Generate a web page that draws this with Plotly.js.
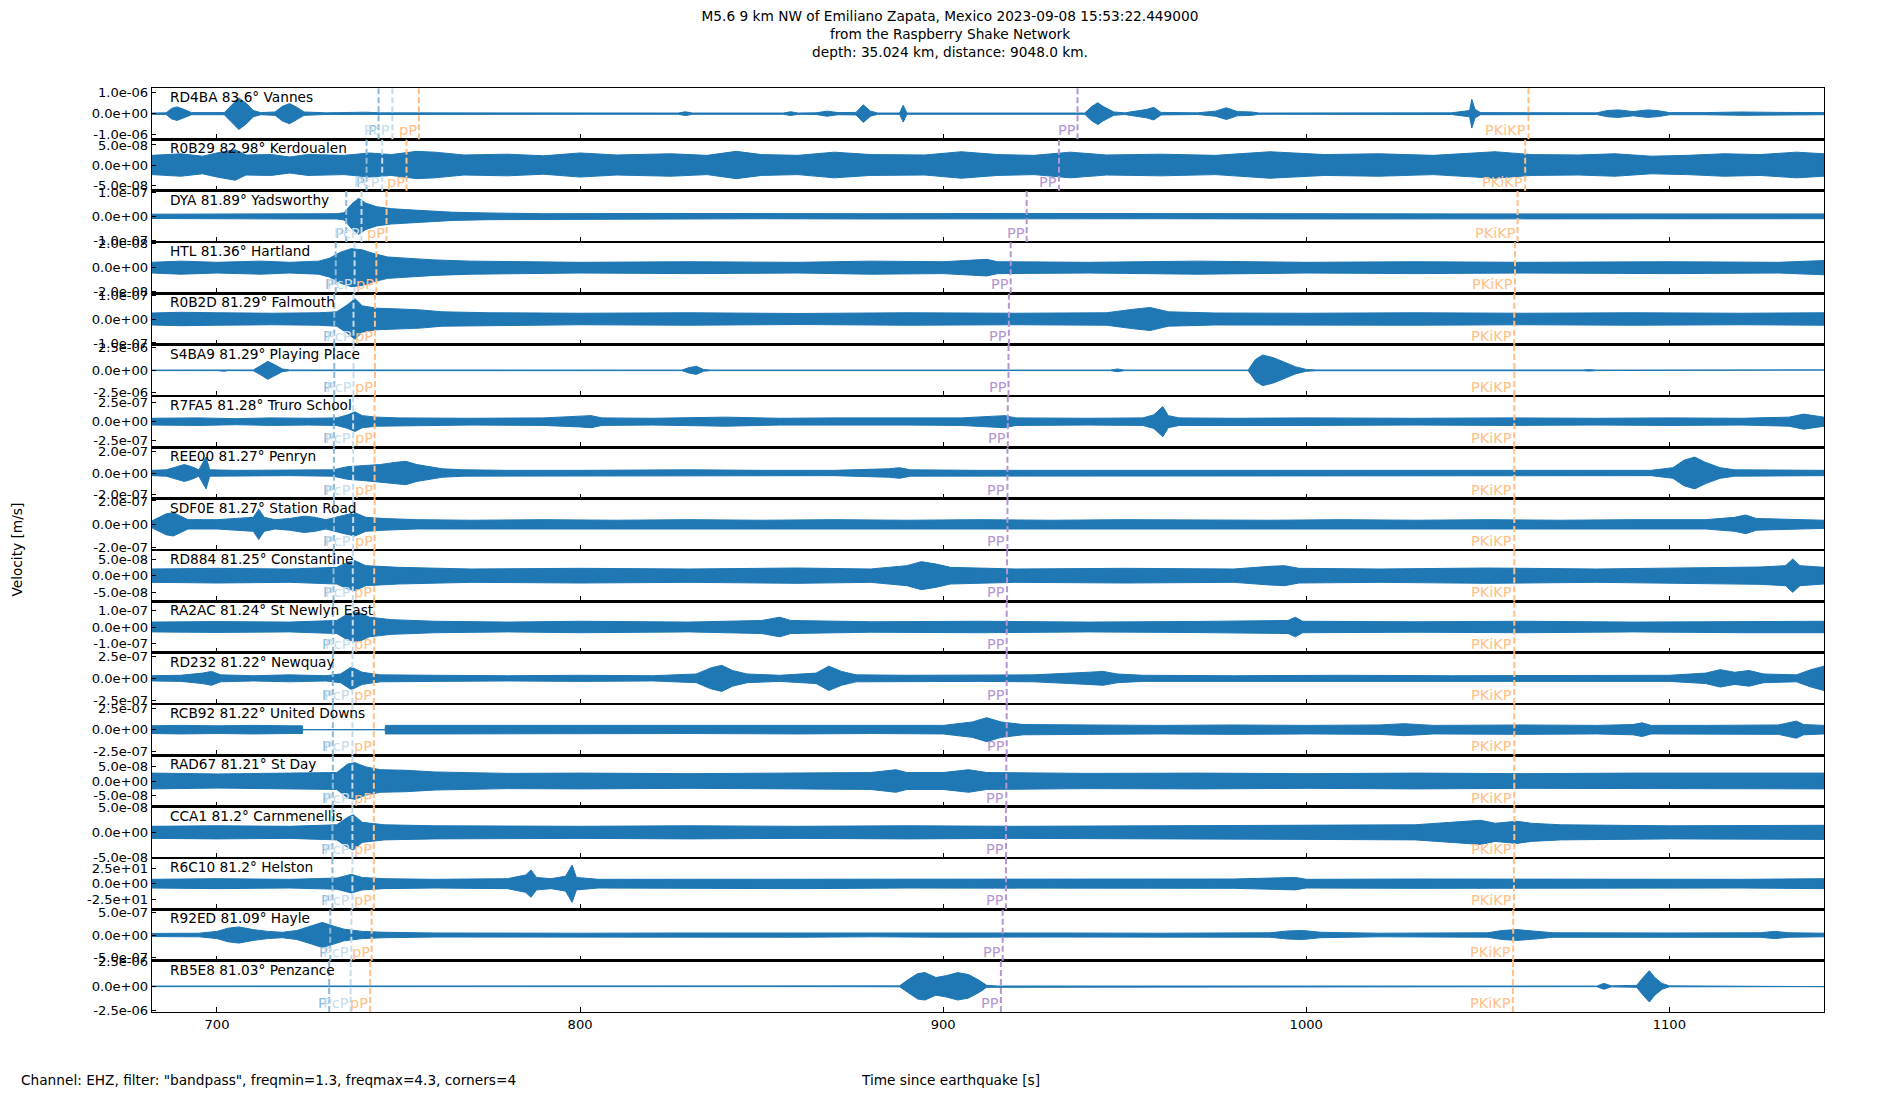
<!DOCTYPE html>
<html>
<head>
<meta charset="utf-8">
<script src="https://cdn.plot.ly/plotly-3.0.1.min.js"></script>
<style>html,body{margin:0;padding:0;background:#fff;}#chart{width:1900px;height:1100px;}</style>
</head>
<body>
<div id="chart"></div>
<script>
// ---------------- DATA ----------------
const stationLabels = [
  "RD4BA 83.6° Vannes", "R0B29 82.98° Kerdoualen", "DYA 81.89° Yadsworthy", "HTL 81.36° Hartland",
  "R0B2D 81.29° Falmouth", "S4BA9 81.29° Playing Place", "R7FA5 81.28° Truro School", "REE00 81.27° Penryn",
  "SDF0E 81.27° Station Road", "RD884 81.25° Constantine", "RA2AC 81.24° St Newlyn East", "RD232 81.22° Newquay",
  "RCB92 81.22° United Downs", "RAD67 81.21° St Day", "CCA1 81.2° Carnmenellis", "R6C10 81.2° Helston",
  "R92ED 81.09° Hayle", "RB5E8 81.03° Penzance"
];
// y tick value (+/-) shown on each panel
const tickAmp = [1e-6, 5e-8, 1e-7, 2e-8, 1e-7, 2.5e-6, 2.5e-7, 2e-7, 2e-7, 5e-8, 1e-7, 2.5e-7, 2.5e-7, 5e-8, 5e-8, 25, 5e-7, 2.5e-6];
// axis half-range of each panel
const yLimit = [1.22e-6, 6.4e-8, 1.07e-7, 2.16e-8, 1.07e-7, 2.85e-6, 3.4e-7, 2.42e-7, 2.2e-7, 7.7e-8, 1.57e-7, 2.95e-7, 3.0e-7, 9.1e-8, 5.1e-8, 41.3, 5.7e-7, 2.62e-6];

// phase arrival times [s] per panel
const tP     = [744.5, 741.2, 735.6, 732.7, 732.3, 732.3, 732.2, 732.2, 732.2, 732.1, 732.0, 731.9, 731.9, 731.9, 731.8, 731.8, 731.2, 730.9];
const tPcP   = [748.3, 745.5, 739.8, 737.9, 737.6, 737.6, 737.5, 737.5, 737.5, 737.4, 737.4, 737.3, 737.3, 737.3, 737.3, 737.3, 737.0, 736.8];
const tpP    = [755.6, 752.2, 746.7, 743.9, 743.5, 743.5, 743.4, 743.4, 743.4, 743.3, 743.3, 743.2, 743.2, 743.2, 743.2, 743.2, 742.6, 742.2];
const tPP    = [937.0, 931.9, 923.0, 918.6, 918.1, 918.0, 917.8, 917.7, 917.7, 917.6, 917.5, 917.5, 917.5, 917.4, 917.3, 917.3, 916.4, 915.9];
const tPKiKP = [1061.2, 1060.3, 1058.2, 1057.5, 1057.3, 1057.3, 1057.3, 1057.3, 1057.3, 1057.3, 1057.3, 1057.3, 1057.3, 1057.3, 1057.3, 1057.2, 1057.0, 1056.9];

// velocity envelopes [time s, amplitude]
const env_RD4BA = [[682.1,0.03e-6],[686,0.04e-6],[687.5,0.25e-6],[689,0.32e-6],[691,0.2e-6],[693,0.05e-6],[702,0.05e-6],[704,0.4e-6],[706,0.75e-6],[708,0.5e-6],[710,0.15e-6],[712,0.05e-6],[716,0.08e-6],[718,0.35e-6],[720,0.48e-6],[722,0.3e-6],[724,0.08e-6],[730,0.04e-6],[741,0.07e-6],[745,0.04e-6],[800,0.03e-6],[827,0.03e-6],[829,0.09e-6],[831,0.03e-6],[856,0.03e-6],[858,0.09e-6],[860,0.03e-6],[865,0.04e-6],[868,0.12e-6],[871,0.05e-6],[876,0.06e-6],[878,0.42e-6],[880,0.12e-6],[882,0.03e-6],[888,0.03e-6],[889,0.4e-6],[890,0.03e-6],[939,0.03e-6],[941,0.35e-6],[942.6,0.52e-6],[944,0.35e-6],[947,0.08e-6],[950,0.04e-6],[956,0.2e-6],[958,0.3e-6],[960,0.06e-6],[970,0.04e-6],[975,0.12e-6],[978,0.28e-6],[981,0.1e-6],[985,0.08e-6],[987,0.03e-6],[1040,0.04e-6],[1045,0.15e-6],[1045.6,0.68e-6],[1046.5,0.2e-6],[1048,0.05e-6],[1080,0.04e-6],[1083,0.15e-6],[1086,0.18e-6],[1090,0.1e-6],[1094,0.18e-6],[1097,0.14e-6],[1100,0.05e-6],[1110,0.05e-6],[1120,0.08e-6],[1130,0.06e-6],[1142.6,0.05e-6]];
const env_R0B29 = [[682.1,2.4e-8],[690,2.8e-8],[696,2.2e-8],[700,3.0e-8],[705,3.8e-8],[708,2.5e-8],[715,2.6e-8],[720,2.0e-8],[725,2.6e-8],[735,2.4e-8],[742,3.0e-8],[748,2.6e-8],[755,3.4e-8],[760,3.2e-8],[768,2.5e-8],[780,2.7e-8],[790,2.3e-8],[800,3.0e-8],[810,2.5e-8],[825,2.8e-8],[835,2.4e-8],[843,3.4e-8],[850,2.6e-8],[860,2.4e-8],[870,3.2e-8],[880,2.6e-8],[895,2.5e-8],[905,3.3e-8],[915,2.6e-8],[925,2.4e-8],[935,3.2e-8],[945,2.5e-8],[960,2.7e-8],[975,2.4e-8],[990,3.3e-8],[1005,2.6e-8],[1020,2.8e-8],[1035,2.4e-8],[1052,3.3e-8],[1062,2.6e-8],[1075,2.5e-8],[1085,2.8e-8],[1095,2.2e-8],[1105,2.4e-8],[1115,2.8e-8],[1125,2.6e-8],[1135,3.2e-8],[1142.6,2.8e-8]];
const env_DYA = [[682.1,0.9e-8],[700,1.0e-8],[720,1.1e-8],[733,1.1e-8],[735,1.5e-8],[737,5.0e-8],[739,7.5e-8],[741,5.5e-8],[744,4.0e-8],[748,3.2e-8],[752,2.8e-8],[758,2.2e-8],[765,1.7e-8],[775,1.4e-8],[790,1.1e-8],[820,1.2e-8],[850,1.0e-8],[880,1.1e-8],[920,1.2e-8],[960,1.0e-8],[1000,1.1e-8],[1050,1.0e-8],[1100,1.1e-8],[1142.6,1.0e-8]];
const env_HTL = [[682.1,0.45e-8],[690,0.55e-8],[700,0.45e-8],[712,0.55e-8],[720,0.45e-8],[728,0.55e-8],[731,0.8e-8],[734,1.3e-8],[737,1.6e-8],[740,1.5e-8],[743,1.2e-8],[747,0.9e-8],[752,0.8e-8],[760,0.65e-8],[770,0.55e-8],[800,0.45e-8],[830,0.5e-8],[860,0.45e-8],[880,0.55e-8],[900,0.5e-8],[912,0.7e-8],[915,0.5e-8],[940,0.45e-8],[970,0.55e-8],[1000,0.45e-8],[1030,0.5e-8],[1060,0.45e-8],[1100,0.5e-8],[1130,0.45e-8],[1142.6,0.6e-8]];
const env_R0B2D = [[682.1,2.5e-8],[690,2.8e-8],[700,2.6e-8],[715,2.4e-8],[728,2.6e-8],[733,3.0e-8],[736,6.0e-8],[738,8.5e-8],[740,5.5e-8],[744,4.5e-8],[750,4.2e-8],[756,3.8e-8],[762,3.0e-8],[775,2.6e-8],[800,2.4e-8],[830,2.6e-8],[860,2.3e-8],[890,2.6e-8],[920,2.4e-8],[945,2.6e-8],[952,4.0e-8],[957,4.8e-8],[962,3.0e-8],[975,2.5e-8],[1000,2.4e-8],[1030,2.6e-8],[1060,2.4e-8],[1090,2.6e-8],[1120,2.4e-8],[1142.6,2.6e-8]];
const env_S4BA9 = [[682.1,0.03e-6],[700,0.03e-6],[702,0.1e-6],[703,0.03e-6],[710,0.04e-6],[712,0.5e-6],[714,1.0e-6],[716,0.6e-6],[718,0.15e-6],[720,0.04e-6],[760,0.03e-6],[828,0.03e-6],[830,0.3e-6],[832,0.45e-6],[834,0.1e-6],[836,0.03e-6],[946,0.03e-6],[948,0.15e-6],[950,0.03e-6],[984,0.03e-6],[986,1.2e-6],[988,1.7e-6],[991,1.4e-6],[994,0.9e-6],[997,0.4e-6],[1000,0.1e-6],[1003,0.04e-6],[1076,0.04e-6],[1078,0.08e-6],[1080,0.03e-6],[1142.6,0.04e-6]];
const env_R7FA5 = [[682.1,4.5e-8],[695,5e-8],[705,4e-8],[715,5e-8],[725,4.5e-8],[733,5e-8],[736,9e-8],[738,13e-8],[740,8e-8],[744,6e-8],[750,5e-8],[770,4.5e-8],[790,5e-8],[800,7e-8],[803,8e-8],[806,5e-8],[820,4.5e-8],[840,6e-8],[855,4.5e-8],[870,5e-8],[890,4.5e-8],[905,5e-8],[917,8e-8],[920,5e-8],[940,4.5e-8],[955,5e-8],[958,9e-8],[960.5,20e-8],[962,8e-8],[965,5e-8],[980,4.5e-8],[1000,5e-8],[1030,4.5e-8],[1055,5e-8],[1080,4.5e-8],[1100,5e-8],[1120,4.5e-8],[1133,6e-8],[1137,10e-8],[1141,7e-8],[1142.6,6e-8]];
const env_REE00 = [[682.1,2.5e-8],[686,3e-8],[689,6e-8],[691,8e-8],[693,6e-8],[695,3e-8],[697,15e-8],[698,3e-8],[705,2.5e-8],[720,2.5e-8],[732,3e-8],[736,6e-8],[740,7e-8],[745,8e-8],[749,10e-8],[752,11e-8],[755,8e-8],[758,6e-8],[762,4e-8],[768,3e-8],[780,2.5e-8],[800,2.5e-8],[830,3e-8],[850,2.5e-8],[870,2.5e-8],[885,4e-8],[888,5e-8],[891,3e-8],[910,2.5e-8],[940,2.5e-8],[980,2.5e-8],[1020,2.5e-8],[1060,2.5e-8],[1095,2.5e-8],[1101,5e-8],[1104,12e-8],[1107,15e-8],[1110,10e-8],[1114,5e-8],[1118,3e-8],[1142.6,2.5e-8]];
const env_SDF0E = [[682.1,3e-8],[684,6e-8],[686,9e-8],[688,10e-8],[690,7e-8],[692,4e-8],[700,4e-8],[705,5e-8],[710,6e-8],[711.5,13e-8],[713,6e-8],[716,4e-8],[720,5e-8],[724,7e-8],[727,6e-8],[730,4e-8],[735,8e-8],[738,10e-8],[741,6e-8],[746,5e-8],[755,4e-8],[770,3.5e-8],[790,4e-8],[810,3.5e-8],[830,4e-8],[850,3.5e-8],[870,4e-8],[890,3.5e-8],[910,4e-8],[930,3.5e-8],[950,4e-8],[970,3.5e-8],[990,3.5e-8],[1010,4e-8],[1030,3.5e-8],[1050,4e-8],[1070,3.5e-8],[1090,4e-8],[1110,4e-8],[1118,6e-8],[1121,8e-8],[1124,5e-8],[1135,4e-8],[1142.6,3.5e-8]];
const env_RD884 = [[682.1,2e-8],[700,2.2e-8],[720,2e-8],[733,2.5e-8],[736,4e-8],[738,4.5e-8],[741,3e-8],[750,2.5e-8],[770,2e-8],[800,2.2e-8],[830,2e-8],[860,2.3e-8],[880,2e-8],[890,3e-8],[894,4.2e-8],[898,3.5e-8],[902,2.5e-8],[920,2e-8],[950,2.2e-8],[980,2e-8],[990,2.8e-8],[994,3e-8],[998,2.2e-8],[1020,2e-8],[1050,2.3e-8],[1080,2e-8],[1110,2.4e-8],[1125,2.6e-8],[1132,3e-8],[1134,5e-8],[1136,3e-8],[1142.6,2.5e-8]];
const env_RA2AC = [[682.1,3e-8],[700,3.3e-8],[720,3e-8],[733,4e-8],[736,8e-8],[739,9e-8],[742,6e-8],[748,4.5e-8],[760,3.5e-8],[780,3e-8],[800,3.5e-8],[830,3e-8],[850,4e-8],[855,6e-8],[858,4e-8],[880,3.2e-8],[910,3.5e-8],[940,3e-8],[970,3.4e-8],[995,4e-8],[997,6e-8],[999,3.5e-8],[1030,3.2e-8],[1060,3.5e-8],[1090,3e-8],[1120,3.5e-8],[1142.6,3.5e-8]];
const env_RD232 = [[682.1,3e-8],[690,3.5e-8],[696,6e-8],[698.5,8e-8],[701,4e-8],[710,3e-8],[720,4e-8],[730,3e-8],[734,5e-8],[737,13e-8],[740,7e-8],[745,4e-8],[760,3.5e-8],[780,3e-8],[800,3.5e-8],[820,3e-8],[832,5e-8],[836,12e-8],[839,15e-8],[842,9e-8],[846,5e-8],[855,3.5e-8],[865,6e-8],[868.5,14e-8],[872,8e-8],[876,4e-8],[890,3.5e-8],[910,3.5e-8],[925,4e-8],[940,7e-8],[944,8e-8],[948,5e-8],[955,3.5e-8],[980,3e-8],[1010,3.5e-8],[1040,3e-8],[1070,3.5e-8],[1100,3.5e-8],[1110,6e-8],[1114,10e-8],[1118,7e-8],[1122,9e-8],[1126,5e-8],[1135,4e-8],[1139,10e-8],[1142.6,14e-8]];
const env_RCB92 = [[682.1,4.5e-8],[690,5e-8],[700,4.5e-8],[710,5e-8],[720,4.5e-8],[723.5,4.5e-8],[723.6,0.2e-8],[746.3,0.2e-8],[746.4,5e-8],[760,5e-8],[780,4.5e-8],[800,5e-8],[830,4.5e-8],[860,5e-8],[880,4.5e-8],[900,5e-8],[908,9e-8],[912,14e-8],[916,9e-8],[922,6e-8],[940,5.5e-8],[960,5e-8],[980,5.5e-8],[1000,5e-8],[1020,5.5e-8],[1027,7e-8],[1035,5e-8],[1060,5.5e-8],[1080,5e-8],[1090,6e-8],[1092.5,8e-8],[1095,5e-8],[1110,5e-8],[1130,5.5e-8],[1135,10e-8],[1137,6e-8],[1142.6,5e-8]];
const env_RAD67 = [[682.1,2.8e-8],[700,2.5e-8],[720,2.8e-8],[733,3e-8],[736,6e-8],[738,6.5e-8],[741,5e-8],[745,4e-8],[752,3.8e-8],[760,3.2e-8],[780,2.7e-8],[800,2.8e-8],[830,2.6e-8],[860,2.8e-8],[880,3e-8],[887,4e-8],[890,3e-8],[900,3e-8],[907,4e-8],[912,3e-8],[940,2.7e-8],[970,2.8e-8],[1000,2.6e-8],[1030,2.8e-8],[1060,2.6e-8],[1090,2.8e-8],[1120,2.7e-8],[1142.6,2.8e-8]];
const env_CCA1 = [[682.1,1.2e-8],[700,1.3e-8],[720,1.2e-8],[733,1.5e-8],[736,3e-8],[737.5,3.5e-8],[740,2e-8],[746,1.5e-8],[760,1.3e-8],[800,1.2e-8],[830,1.3e-8],[860,1.2e-8],[890,1.3e-8],[920,1.2e-8],[960,1.3e-8],[1000,1.4e-8],[1030,1.5e-8],[1044,2.2e-8],[1048,2.4e-8],[1052,1.8e-8],[1058,2.2e-8],[1062,1.8e-8],[1070,1.5e-8],[1100,1.3e-8],[1142.6,1.4e-8]];
const env_R6C10 = [[682.1,7],[700,8],[720,7],[733,9],[737,15],[740,10],[746,8],[760,7],[780,8],[785,14],[786.5,22],[788,10],[792,8],[796,12],[797.8,30],[799,10],[805,7],[830,7],[860,8],[890,7],[920,7.5],[950,7],[980,7.5],[997,10],[1000,7],[1030,7.5],[1060,7],[1090,7.5],[1120,7],[1142.6,8]];
const env_R92ED = [[682.1,0.35e-7],[695,0.4e-7],[700,0.8e-7],[703,1.5e-7],[706,1.8e-7],[710,1.2e-7],[714,0.8e-7],[718,0.6e-7],[722,1.0e-7],[726,2.0e-7],[729,2.8e-7],[732,2.0e-7],[735,1.3e-7],[740,0.8e-7],[746,0.6e-7],[760,0.45e-7],[780,0.5e-7],[800,0.4e-7],[830,0.45e-7],[860,0.5e-7],[880,0.4e-7],[900,0.5e-7],[930,0.45e-7],[960,0.4e-7],[990,0.5e-7],[995,0.9e-7],[999,1.0e-7],[1004,0.6e-7],[1020,0.4e-7],[1050,0.5e-7],[1054,1.0e-7],[1058,1.2e-7],[1063,0.9e-7],[1068,0.5e-7],[1100,0.45e-7],[1125,0.5e-7],[1129,0.8e-7],[1133,0.5e-7],[1142.6,0.4e-7]];
const env_RB5E8 = [[682.1,0.03e-6],[707,0.03e-6],[709,0.08e-6],[711,0.03e-6],[735,0.03e-6],[737,0.1e-6],[739,0.03e-6],[870,0.03e-6],[888,0.05e-6],[890,0.6e-6],[893,1.3e-6],[895,1.4e-6],[898,0.9e-6],[901,1.1e-6],[904,1.4e-6],[907,1.2e-6],[910,0.6e-6],[912,0.1e-6],[915,0.03e-6],[1080,0.03e-6],[1082,0.3e-6],[1084,0.05e-6],[1091,0.1e-6],[1093,1.0e-6],[1094.5,1.6e-6],[1096,0.9e-6],[1098,0.3e-6],[1100,0.05e-6],[1142.6,0.03e-6]];

const envelopes = [env_RD4BA, env_R0B29, env_DYA, env_HTL, env_R0B2D, env_S4BA9, env_R7FA5, env_REE00, env_SDF0E,
  env_RD884, env_RA2AC, env_RD232, env_RCB92, env_RAD67, env_CCA1, env_R6C10, env_R92ED, env_RB5E8];

const xTicks = [700, 800, 900, 1000, 1100];
const xRange = [682.1, 1142.6];

// ---------------- BUILD ----------------
function fmtSci(v) {
  if (v === 0) return "0.0e+00";
  const e = Math.floor(Math.log10(Math.abs(v)) + 1e-9);
  const m = v / Math.pow(10, e);
  const es = (e < 0 ? "-" : "+") + String(Math.abs(e)).padStart(2, "0");
  return m.toFixed(1) + "e" + es;
}

const N = stationLabels.length;
const FONT = "DejaVu Sans, Liberation Sans, sans-serif";
const traces = [];
const shapes = [];
const annotations = [];
const layout = {
  width: 1900, height: 1100,
  margin: {l: 152, r: 76, t: 88, b: 88},
  paper_bgcolor: "#ffffff", plot_bgcolor: "#ffffff",
  showlegend: false, hovermode: false,
  font: {family: FONT, size: 13.7, color: "#000"},
  title: {
    text: "M5.6 9 km NW of Emiliano Zapata, Mexico 2023-09-08 15:53:22.449000<br>from the Raspberry Shake Network<br>depth: 35.024 km, distance: 9048.0 km.",
    x: 0.5, xref: "container", xanchor: "center",
    y: 1 - 21 / 1100, yref: "container", yanchor: "middle",
    font: {family: FONT, size: 13.7, color: "#000", lineheight: 1.2}
  }
};

const phases = [
  {name: "P", times: tP, color: "#8ebad9"},
  {name: "PcP", times: tPcP, color: "#c6dcec"},
  {name: "pP", times: tpP, color: "#ffbf86"},
  {name: "PP", times: tPP, color: "#b497d1"},
  {name: "PKiKP", times: tPKiKP, color: "#ffbf86"}
];

for (let i = 0; i < N; i++) {
  const s = i === 0 ? "" : String(i + 1);
  const env = envelopes[i];
  const xs = env.map(p => p[0]).concat(env.slice().reverse().map(p => p[0]));
  const ys = env.map(p => p[1]).concat(env.slice().reverse().map(p => -p[1]));
  traces.push({
    type: "scatter", mode: "lines", x: xs, y: ys,
    xaxis: "x" + s, yaxis: "y" + s,
    fill: "toself", fillcolor: "#1f77b4",
    line: {color: "#1f77b4", width: 1}
  });
  const top = 1 - i / N, bot = 1 - (i + 1) / N;
  layout["xaxis" + s] = {
    domain: [0, 1], anchor: "y" + s, range: xRange,
    tickvals: xTicks, ticktext: xTicks.map(String),
    ticks: "inside", ticklen: 5, tickcolor: "#000", tickwidth: 1,
    showticklabels: i === N - 1,
    tickfont: {family: FONT, size: 13.1, color: "#000"},
    showline: true, mirror: true, linecolor: "#000", linewidth: 1.2,
    showgrid: false, zeroline: false
  };
  const A = tickAmp[i];
  layout["yaxis" + s] = {
    domain: [bot, top], anchor: "x" + s, range: [-yLimit[i], yLimit[i]],
    tickvals: [-A, 0, A], ticktext: [fmtSci(-A), fmtSci(0), fmtSci(A)],
    ticks: "inside", ticklen: 4, tickcolor: "#000", tickwidth: 1,
    tickfont: {family: FONT, size: 13.1, color: "#000"},
    showline: true, mirror: true, linecolor: "#000", linewidth: 1.2,
    showgrid: false, zeroline: false
  };
  annotations.push({
    text: stationLabels[i], xref: "x" + s + " domain", yref: "y" + s + " domain",
    x: 0.0095, y: 1, xanchor: "left", yanchor: "top", yshift: 1, showarrow: false,
    font: {family: FONT, size: 13.7, color: "#000"}
  });
  phases.forEach(ph => {
    const t = ph.times[i];
    shapes.push({
      type: "line", xref: "x" + s, yref: "y" + s + " domain",
      x0: t, x1: t, y0: 0, y1: 1,
      line: {color: ph.color, width: 2, dash: "6px,3px"}
    });
    annotations.push({
      text: ph.name, xref: "x" + s, yref: "y" + s + " domain",
      x: t, y: 0, xanchor: "right", yanchor: "bottom", yshift: 0, xshift: -1,
      showarrow: false, borderpad: 0,
      font: {family: FONT, size: 14.5, color: ph.color}
    });
  });
}

annotations.push({
  text: "Velocity [m/s]", xref: "paper", yref: "paper", x: -0.081, y: 0.5,
  xanchor: "center", yanchor: "middle", textangle: -90, showarrow: false,
  font: {family: FONT, size: 13.7, color: "#000"}
});
annotations.push({
  text: 'Channel: EHZ, filter: "bandpass", freqmin=1.3, freqmax=4.3, corners=4',
  xref: "paper", yref: "paper", x: -0.0795, y: -0.0735,
  xanchor: "left", yanchor: "middle", showarrow: false,
  font: {family: FONT, size: 13.7, color: "#000"}
});
annotations.push({
  text: "Time since earthquake [s]",
  xref: "paper", yref: "paper", x: (950 - 152) / 1672, y: -0.0735,
  xanchor: "center", yanchor: "middle", showarrow: false,
  font: {family: FONT, size: 13.7, color: "#000"}
});

layout.shapes = shapes;
layout.annotations = annotations;

Plotly.newPlot("chart", traces, layout, {displayModeBar: false, staticPlot: true});
</script>
</body>
</html>
